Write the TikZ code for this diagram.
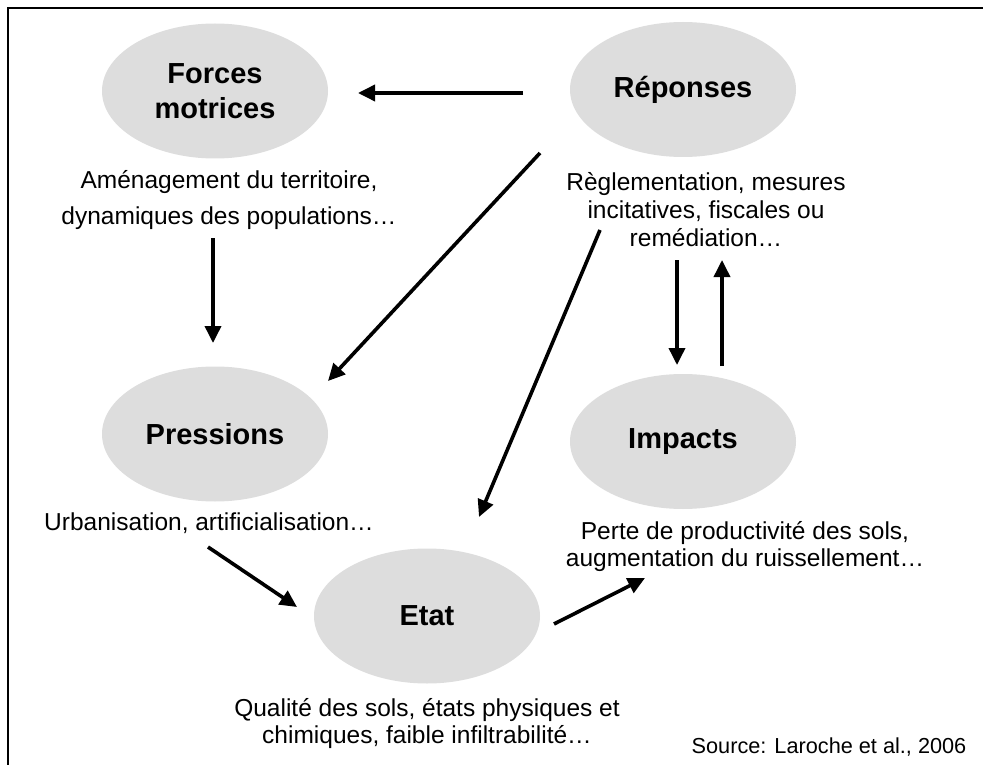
\documentclass[tikz,border=0pt]{standalone}
\usepackage{fontspec}
\setmainfont{Liberation Sans}
\usetikzlibrary{arrows.meta,shapes.geometric}
\definecolor{ellgray}{HTML}{DDDDDD}
\begin{document}
\begin{tikzpicture}[x=1pt,y=-1pt,
  blob/.style={ellipse, fill=ellgray, minimum width=226pt, minimum height=135pt, inner sep=0pt, align=center, font=\fontsize{29}{35}\selectfont\bfseries},
  desc/.style={align=center, inner sep=0pt, font=\fontsize{24.5}{27}\selectfont},
  arr/.style={line width=3.6pt, -{Triangle[length=17pt,width=16pt]}}]
\useasboundingbox (0,0) rectangle (983,765);
\fill[white] (0,0) rectangle (983,765);
% frame (only left and top edges fall inside the picture)
\draw[line width=2pt] (7.5,766) -- (7.5,8) -- (984,8);

% ellipses
\node[blob] (forces) at (215,91) {Forces\\motrices};
\node[blob] (reponses) at (683,89.5) {Réponses};
\node[blob] (pressions) at (215,434) {Pressions};
\node[blob] (impacts) at (683,441.5) {Impacts};
\node[blob] (etat) at (427,616) {Etat};

% descriptions
\node[desc, font=\fontsize{24.5}{36}\selectfont] (amen) at (229,200) {Aménagement du territoire,\\dynamiques des populations…};
\node[desc, font=\fontsize{24.5}{28}\selectfont] (regl) at (706,210) {Règlementation, mesures\\incitatives, fiscales ou\\remédiation…};
\node[desc] (urb) at (209,523) {Urbanisation, artificialisation…};
\node[desc] (perte) at (745,546.5) {Perte de productivité des sols,\\augmentation du ruissellement…};
\node[desc] (qual) at (427,723.5) {Qualité des sols, états physiques et\\chimiques, faible infiltrabilité…};
\node[inner sep=0pt, font=\fontsize{21.7}{25}\selectfont] (src) at (829,747) {Source: Laroche et al., 2006};

% arrow end points
\coordinate (rf1) at (523,93);  \coordinate (rf2) at (358,93);
\coordinate (rp1) at (540,153); \coordinate (rp2) at (328,381);
\coordinate (re1) at (600,230); \coordinate (re2) at (479,517);
\coordinate (fp1) at (213,238); \coordinate (fp2) at (213,343);
\coordinate (ri1) at (677,260); \coordinate (ri2) at (677,365);
\coordinate (ir1) at (722,366); \coordinate (ir2) at (722,260);
\coordinate (ue1) at (208,547); \coordinate (ue2) at (297,607);
\coordinate (ei1) at (554,624); \coordinate (ei2) at (645,578);

% arrows
\draw[arr] (rf1) -- (rf2);
\draw[arr] (rp1) -- (rp2);
\draw[arr] (re1) -- (re2);
\draw[arr] (fp1) -- (fp2);
\draw[arr] (ri1) -- (ri2);
\draw[arr] (ir1) -- (ir2);
\draw[arr] (ue1) -- (ue2);
\draw[arr] (ei1) -- (ei2);
\end{tikzpicture}
\end{document}
